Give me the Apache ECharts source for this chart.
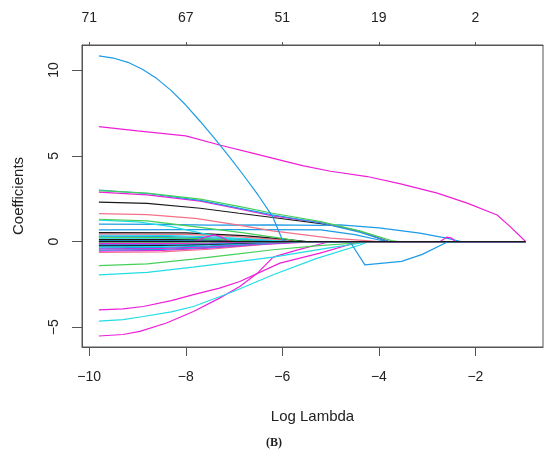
<!DOCTYPE html>
<html>
<head>
<meta charset="utf-8">
<script src="https://cdn.jsdelivr.net/npm/echarts@6/dist/echarts.min.js"></script>
<style>
  html, body { margin: 0; padding: 0; background: #fff; }
  #chart { width: 550px; height: 456px; }
</style>
</head>
<body>
<div id="chart"></div>
<script>
// tick positions and labels
const xTicks = [-10, -8, -6, -4, -2]
const dfLabels = ['71', '67', '51', '19', '2']
const yTicks = [-5, 0, 5, 10]

// coefficient paths, [log lambda, coefficient]
const blueBig = [[-9.8,10.83],[-9.5,10.7],[-9.2,10.45],[-8.9,10.05],[-8.6,9.5],[-8.3,8.8],[-8,7.96],[-7.7,7.0],[-7.4,6.0],[-7.1,4.95],[-6.8,3.85],[-6.5,2.7],[-6.2,1.45],[-6.0,0.1],[-5.9,0],[-4.6,0],[-4.29,-1.36],[-3.53,-1.16],[-3.1,-0.75],[-2.56,0],[-0.96,0]]
const magentaBig = [[-9.8,6.7],[-9,6.45],[-8,6.16],[-7.3,5.63],[-6.66,5.18],[-6,4.72],[-5.56,4.41],[-5,4.1],[-4.24,3.79],[-3.55,3.36],[-2.79,2.82],[-2.17,2.24],[-1.55,1.55],[-1.28,0.87],[-0.96,0]]
const greenTop = [[-9.8,2.97],[-8.8,2.82],[-7.7,2.47],[-6.9,2.05],[-6.2,1.65],[-5.2,1.16],[-4.4,0.62],[-3.74,0.05],[-3.6,0],[-0.96,0]]
const blueTop = [[-9.8,3.0],[-8.8,2.8],[-7.7,2.4],[-6.9,1.95],[-6.2,1.55],[-5.2,1.08],[-4.4,0.55],[-3.8,0],[-0.96,0]]
const magentaTop = [[-9.8,2.88],[-8.8,2.72],[-7.7,2.36],[-6.9,1.9],[-6.2,1.5],[-5.2,1.1],[-4.4,0.6],[-3.8,0],[-0.96,0]]
const blackTop = [[-9.8,2.3],[-8.8,2.22],[-7.7,1.94],[-6.9,1.65],[-6.2,1.4],[-5,0.97],[-4.4,0.6],[-3.9,0.1],[-3.8,0],[-0.96,0]]
const redA = [[-9.8,1.63],[-8.8,1.57],[-7.8,1.35],[-7,1.0],[-6.2,0.62],[-5,0.2],[-4.4,0.08],[-4,0],[-0.96,0]]
const greenA = [[-9.8,1.3],[-8.8,1.2],[-7.7,0.82],[-6.8,0.5],[-6.05,0.2],[-5.6,0],[-0.96,0]]
const cyanA = [[-9.8,1.25],[-9,1.15],[-8.3,0.87],[-7.7,0.5],[-7,0.1],[-6.8,0],[-0.96,0]]
const blueA = [[-9.8,1.01],[-8.5,1.0],[-7.5,0.96],[-6.2,0.97],[-5.2,0.94],[-4.8,0.97],[-4,0.8],[-3.15,0.49],[-2.6,0.2],[-2.3,0],[-0.96,0]]
const blueB = [[-9.8,0.68],[-8,0.7],[-6.5,0.7],[-5.2,0.68],[-4.5,0.4],[-3.85,0],[-0.96,0]]
const blackA = [[-9.8,0.52],[-8,0.5],[-6.8,0.35],[-6,0.15],[-5.5,0],[-0.96,0]]
const redB = [[-9.8,0.45],[-8,0.42],[-7,0.3],[-6,0.1],[-5.6,0],[-0.96,0]]
const cyanB = [[-9.8,0.38],[-8.5,0.36],[-7.5,0.28],[-6.5,0.12],[-5.8,0],[-0.96,0]]
const blueC = [[-9.8,0.32],[-8.5,0.3],[-7.5,0.22],[-6.5,0.1],[-5.5,0],[-0.96,0]]
const greenB = [[-9.8,0.26],[-8.5,0.24],[-7.5,0.16],[-6.8,0.05],[-6.4,0],[-0.96,0]]
const cyanC = [[-9.8,0.2],[-8.5,0.19],[-7.5,0.14],[-6.5,0.05],[-6,0],[-0.96,0]]
const blackB = [[-9.8,0.13],[-8,0.12],[-7,0.08],[-6.2,0],[-0.96,0]]
const blueD = [[-9.8,0.07],[-8,0.06],[-7,0.03],[-6.5,0],[-0.96,0]]
const magentaBump = [[-9.8,0],[-7.8,0],[-7.6,0.25],[-7.4,0.39],[-7.25,0.25],[-7.1,0],[-2.73,0],[-2.59,0.26],[-2.49,0.2],[-2.42,0],[-0.96,0]]
const greenC = [[-9.8,-0.05],[-8,-0.05],[-7.2,0],[-0.96,0]]
const magentaA = [[-9.8,-0.12],[-8.5,-0.12],[-7.5,-0.08],[-6.5,0],[-0.96,0]]
const blueE = [[-9.8,-0.18],[-8.5,-0.17],[-7.5,-0.12],[-6.5,-0.04],[-6,0],[-0.96,0]]
const blackC = [[-9.8,-0.24],[-8.5,-0.22],[-7.5,-0.16],[-6.5,-0.06],[-5.8,0],[-0.96,0]]
const cyanD = [[-9.8,-0.3],[-8.5,-0.28],[-7.5,-0.2],[-6.5,-0.08],[-5.6,0],[-0.96,0]]
const blueF = [[-9.8,-0.37],[-8.5,-0.34],[-7.5,-0.25],[-6.5,-0.1],[-5.5,0],[-0.96,0]]
const magentaB = [[-9.8,-0.43],[-8.5,-0.4],[-7.5,-0.3],[-6.5,-0.13],[-5.4,0],[-0.96,0]]
const blueG = [[-9.8,-0.5],[-8.5,-0.46],[-7.5,-0.34],[-6.5,-0.15],[-5.5,0],[-0.96,0]]
const magentaC = [[-9.8,-0.56],[-8.5,-0.52],[-7.5,-0.38],[-6.5,-0.18],[-5.3,0],[-0.96,0]]
const redC = [[-9.8,-0.64],[-8.5,-0.6],[-7.5,-0.45],[-6.5,-0.2],[-5.8,0],[-0.96,0]]
const greenD = [[-9.8,-1.4],[-8.8,-1.3],[-7.85,-1.03],[-7,-0.75],[-6.19,-0.48],[-5.3,-0.25],[-4.53,-0.1],[-4.3,0],[-0.96,0]]
const cyanE = [[-9.8,-1.94],[-8.8,-1.8],[-7.85,-1.49],[-7,-1.2],[-6.19,-0.91],[-5,-0.35],[-4.39,-0.1],[-4.2,0],[-0.96,0]]
const magentaD = [[-9.8,-3.98],[-9.3,-3.93],[-8.88,-3.79],[-8.3,-3.45],[-7.84,-3.1],[-7.3,-2.72],[-6.88,-2.33],[-6.05,-1.26],[-5.22,-0.68],[-4.39,0],[-0.96,0]]
const cyanF = [[-9.8,-4.64],[-9.3,-4.55],[-8.88,-4.37],[-8.3,-4.1],[-7.84,-3.79],[-7,-2.9],[-6.19,-1.94],[-5.3,-1.0],[-4.39,-0.2],[-4.2,0],[-0.96,0]]
const magentaE = [[-9.8,-5.51],[-9.3,-5.42],[-8.95,-5.24],[-8.4,-4.75],[-7.84,-4.08],[-7.3,-3.3],[-6.88,-2.62],[-6.5,-1.8],[-6.19,-0.91],[-5.7,-0.5],[-5.15,-0.1],[-5,0],[-0.96,0]]
const blackZero = [[-9.8,0.01],[-8,0.01],[-6,0],[-0.96,0]]

const palette = {
  black: '#1a1a1a', red: '#F2728A', green: '#45D05A',
  blue: '#1E9BE6', cyan: '#22DDE6', magenta: '#EE1FD8'
}

const paths = [
  [redC, 'red'], [magentaE, 'magenta'], [cyanF, 'cyan'], [magentaD, 'magenta'],
  [cyanE, 'cyan'], [greenD, 'green'], [magentaC, 'magenta'], [blueG, 'blue'],
  [magentaB, 'magenta'], [blueF, 'blue'], [cyanD, 'cyan'], [blackC, 'black'],
  [blueE, 'blue'], [magentaA, 'magenta'], [greenC, 'green'], [blueD, 'blue'],
  [blackB, 'black'], [cyanC, 'cyan'], [greenB, 'green'], [blueC, 'blue'],
  [cyanB, 'cyan'], [redB, 'red'], [blackA, 'black'], [blueB, 'blue'],
  [blueA, 'blue'], [cyanA, 'cyan'], [greenA, 'green'], [redA, 'red'],
  [blackTop, 'black'], [magentaTop, 'magenta'], [blueTop, 'blue'], [greenTop, 'green'],
  [magentaBig, 'magenta'], [blueBig, 'blue'], [magentaBump, 'magenta'], [blackZero, 'black']
]

const axisColor = '#555'
const labelFont = { fontFamily: 'Liberation Sans, Arial, sans-serif', fontSize: 14, color: '#222' }
const minusFmt = v => (v < 0 ? '\u2212' + Math.abs(v) : String(v))

const myChart = echarts.init(document.getElementById('chart'), null, { renderer: 'canvas' })
const option = {
  animation: false,
  grid: {
    left: 82, right: 7, top: 45, bottom: 109,
    show: true, borderColor: axisColor, borderWidth: 1, backgroundColor: 'transparent'
  },
  xAxis: [{
    type: 'value', position: 'bottom', min: -10.15, max: -0.6,
    axisLine: { show: true, onZero: false, lineStyle: { color: axisColor } },
    axisTick: { show: true, length: 9, customValues: xTicks, lineStyle: { color: axisColor } },
    axisLabel: { customValues: xTicks, margin: 23, ...labelFont, formatter: minusFmt },
    splitLine: { show: false },
    name: 'Log Lambda', nameLocation: 'middle', nameGap: 62,
    nameTextStyle: { fontFamily: 'Liberation Sans, Arial, sans-serif', fontSize: 15, color: '#222' }
  }, {
    type: 'value', position: 'top', min: -10.15, max: -0.6,
    axisLine: { show: true, onZero: false, lineStyle: { color: axisColor } },
    axisTick: { show: true, length: 3, customValues: xTicks, lineStyle: { color: axisColor } },
    axisLabel: { customValues: xTicks, margin: 20, ...labelFont,
      formatter: v => dfLabels[xTicks.indexOf(v)] },
    splitLine: { show: false }
  }],
  yAxis: {
    type: 'value', min: -6.15, max: 11.46,
    axisLine: { show: true, onZero: false, lineStyle: { color: axisColor } },
    axisTick: { show: true, length: 10, customValues: yTicks, lineStyle: { color: axisColor } },
    axisLabel: { customValues: yTicks, rotate: 90, margin: 21, ...labelFont, formatter: minusFmt },
    splitLine: { show: false },
    name: 'Coefficients', nameLocation: 'middle', nameGap: 56,
    nameTextStyle: { fontFamily: 'Liberation Sans, Arial, sans-serif', fontSize: 15, color: '#222' }
  },
  graphic: [{
    type: 'text', left: 266, top: 437,
    style: { text: '(B)', font: 'bold 12px "Liberation Serif", "DejaVu Serif", serif', fill: '#222' }
  }],
  series: paths.map(([data, c]) => ({
    type: 'line',
    data: data,
    showSymbol: false,
    smooth: false,
    lineStyle: { color: palette[c], width: 1.2 },
    itemStyle: { color: palette[c] },
    silent: true
  }))
}
myChart.setOption(option)
</script>
</body>
</html>
